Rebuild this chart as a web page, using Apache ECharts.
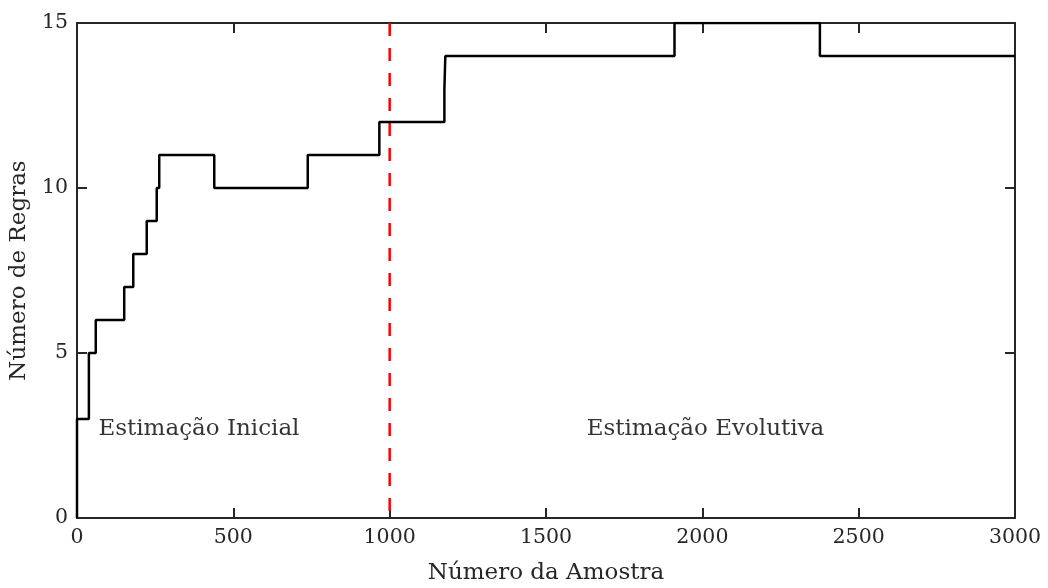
<!DOCTYPE html>
<html><head><meta charset="utf-8">
<script src="https://cdn.jsdelivr.net/npm/echarts@6/dist/echarts.min.js"></script>
<style>html,body{margin:0;padding:0;background:#fff}#c{width:1048px;height:588px}</style>
</head><body><div id="c"></div>
<script>
// Step change points (sample index, number of rules after the change)
const stepX = [0, 0, 38, 60, 151, 180, 223, 255, 263, 439, 738, 967, 1175, 1178, 1911, 2376, 3000];
const stepY = [0, 3, 5, 6, 7, 8, 9, 10, 11, 10, 11, 12, 13, 14, 15, 14, 14];
const xTicks = [0, 500, 1000, 1500, 2000, 2500, 3000];
const yTicks = [0, 5, 10, 15];
const dividerX = 1000;
const annotations = [
  {name: 'Estimação Inicial', x: 390, y: 2.7},
  {name: 'Estimação Evolutiva', x: 2010, y: 2.7}
];
const xTitle = 'Número da Amostra';
const yTitle = 'Número de Regras';

const textFont = '"DejaVu Serif", serif';
const axisCol = '#262626';
const chart = echarts.init(document.getElementById('c'));
const lineData = stepX.map((x, i) => [x, stepY[i]]);
const yMin = yTicks[0], yMax = yTicks[yTicks.length - 1];
const common = () => ({
  axisLine: {show: true, onZero: false, lineStyle: {color: axisCol, width: 2}},
  axisTick: {show: true, inside: true, length: 10, lineStyle: {color: axisCol, width: 2}},
  splitLine: {show: false}
});
chart.setOption({
  animation: false,
  grid: {left: 77, right: 33, top: 23, bottom: 70, outerBoundsMode: 'none', containLabel: false},
  xAxis: [
    Object.assign({type: 'value', min: xTicks[0], max: xTicks[xTicks.length - 1], interval: 500,
      name: xTitle, nameLocation: 'middle', nameGap: 44,
      nameTextStyle: {fontFamily: textFont, fontSize: 23, color: axisCol},
      axisLabel: {fontFamily: textFont, fontSize: 20.5, color: axisCol, margin: 9,
        formatter: v => String(v)}}, common()),
    Object.assign({type: 'value', min: xTicks[0], max: xTicks[xTicks.length - 1], interval: 500,
      position: 'top', axisLabel: {show: false}}, common())
  ],
  yAxis: [
    Object.assign({type: 'value', min: yMin, max: yMax, interval: 5,
      name: yTitle, nameLocation: 'middle', nameGap: 40,
      nameTextStyle: {fontFamily: textFont, fontSize: 23, color: axisCol},
      axisLabel: {fontFamily: textFont, fontSize: 20.5, color: axisCol, margin: 9,
        formatter: v => String(v)}}, common()),
    Object.assign({type: 'value', min: yMin, max: yMax, interval: 5,
      position: 'right', axisLabel: {show: false}}, common())
  ],
  series: [
    {type: 'line', data: lineData, step: 'end', showSymbol: false,
     lineStyle: {color: '#000', width: 2.5}, z: 3},
    {type: 'line', data: [[dividerX, yMax], [dividerX, yMin]], showSymbol: false,
     lineStyle: {color: '#ff0000', width: 2.5, type: [13, 12]}, z: 2},
    {type: 'scatter', symbolSize: 0,
     data: annotations.map(a => ({name: a.name, value: [a.x, a.y]})),
     label: {show: true, formatter: p => p.name, position: 'inside',
       fontFamily: textFont, fontSize: 23, color: '#000'}}
  ]
});
</script></body></html>
